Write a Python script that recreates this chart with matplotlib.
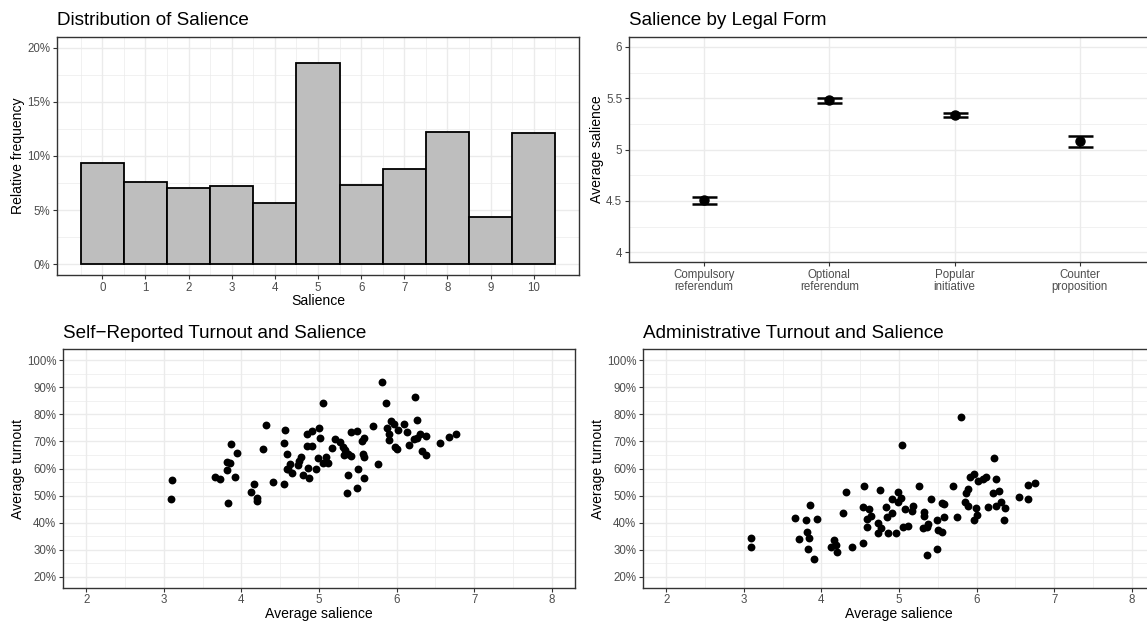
import numpy as np
import matplotlib.pyplot as plt
from matplotlib.ticker import FixedLocator, FuncFormatter

plt.rcParams['font.family'] = ['Liberation Sans', 'DejaVu Sans']

# histogram of salience (share of votes per level, in %)
salience_levels = list(range(11))
salience_share = [9.33, 7.55, 6.99, 7.18, 5.61, 18.53, 7.33, 8.77, 12.21, 4.36, 12.09]

# salience by legal form (mean and confidence interval)
legal_forms = ["Compulsory\nreferendum", "Optional\nreferendum",
               "Popular\ninitiative", "Counter\nproposition"]
form_mean = [4.505, 5.48, 5.338, 5.079]
form_lower = [4.474, 5.452, 5.315, 5.023]
form_upper = [4.535, 5.50, 5.36, 5.13]

# self-reported turnout vs average salience
self_x = [3.103, 3.095, 3.657, 3.727, 3.860, 3.812, 3.847, 3.817, 3.946, 3.911,
          3.830, 4.165, 4.126, 4.198, 4.207, 4.281, 4.314, 4.401, 4.543, 4.559,
          4.552, 4.585, 4.620, 4.603, 4.585, 4.646, 4.740, 4.765, 4.732, 4.791,
          4.865, 4.856, 4.848, 4.907, 4.994, 5.010, 4.848, 4.912, 5.049, 4.990,
          5.088, 5.058, 5.122, 4.964, 5.174, 5.200, 5.268, 5.303, 5.329, 5.320,
          5.376, 5.415, 5.410, 5.492, 5.380, 5.509, 5.577, 5.492, 5.363, 5.552,
          5.586, 5.561, 5.586, 5.698, 5.763, 5.809, 5.861, 5.879, 5.896, 5.896,
          5.930, 5.973, 6.021, 5.986, 6.008, 6.093, 6.128, 6.166, 6.235, 6.265,
          6.222, 6.260, 6.304, 6.373, 6.325, 6.373, 6.566, 6.673, 6.768]
self_y = [55.6, 48.6, 56.9, 56.1, 69.2, 62.3, 62.1, 59.6, 65.6, 56.9,
          47.3, 54.2, 51.4, 49.0, 47.9, 67.2, 75.9, 55.0, 54.2, 74.1,
          69.5, 65.5, 61.6, 60.0, 59.7, 58.4, 62.8, 64.3, 61.2, 57.7,
          56.4, 60.2, 72.8, 73.7, 75.0, 71.4, 68.2, 68.4, 84.2, 64.0,
          64.1, 62.1, 61.9, 59.7, 67.6, 70.8, 69.7, 68.1, 66.7, 64.9,
          65.2, 64.5, 73.4, 73.7, 57.7, 59.7, 56.4, 53.0, 50.8, 70.1,
          71.1, 65.4, 64.3, 75.6, 61.5, 91.8, 84.2, 74.8, 72.8, 70.5,
          77.7, 76.5, 74.4, 67.8, 67.1, 76.3, 73.4, 68.8, 86.5, 78.0,
          71.0, 71.2, 72.8, 71.9, 66.3, 65.1, 69.4, 71.5, 72.6]

# administrative turnout vs average salience
admin_x = [3.094, 3.090, 3.656, 3.716, 3.853, 3.806, 3.811, 3.840, 3.824, 3.943,
           3.909, 4.158, 4.120, 4.192, 4.201, 4.274, 4.313, 4.394, 4.535, 4.552,
           4.539, 4.613, 4.583, 4.638, 4.583, 4.732, 4.758, 4.728, 4.770, 4.834,
           4.847, 4.908, 4.860, 4.908, 4.959, 4.990, 4.990, 5.021, 5.037, 5.080,
           5.050, 5.118, 5.179, 5.166, 5.260, 5.317, 5.317, 5.304, 5.355, 5.376,
           5.407, 5.355, 5.484, 5.501, 5.548, 5.488, 5.574, 5.548, 5.582, 5.690,
           5.754, 5.800, 5.848, 5.870, 5.887, 5.891, 5.916, 5.964, 5.990, 6.006,
           5.973, 6.019, 6.089, 6.118, 6.153, 6.221, 6.251, 6.218, 6.290, 6.247,
           6.311, 6.363, 6.359, 6.552, 6.663, 6.663, 6.758]
admin_y = [34.3, 30.9, 41.8, 33.8, 46.5, 41.1, 36.6, 34.4, 30.4, 41.4,
           26.6, 33.7, 31.0, 31.6, 29.2, 43.6, 51.2, 31.1, 32.5, 53.5,
           45.7, 45.2, 41.4, 42.4, 38.3, 39.8, 52.1, 36.3, 38.1, 45.8,
           42.0, 43.6, 36.3, 48.7, 36.3, 51.2, 47.5, 49.2, 68.8, 45.0,
           38.5, 38.9, 46.1, 44.2, 53.5, 44.1, 42.6, 38.0, 38.5, 39.6,
           48.6, 28.2, 30.4, 37.4, 36.5, 41.1, 42.0, 47.4, 46.8, 53.4,
           42.1, 78.9, 47.7, 51.0, 52.3, 46.3, 56.7, 57.9, 45.3, 42.9,
           41.1, 55.4, 56.0, 56.7, 45.9, 64.0, 56.3, 50.9, 51.8, 46.3,
           47.7, 45.4, 41.1, 49.4, 48.6, 53.9, 54.5]

W, H = 1147, 624
GRID = '#EBEBEB'
TICKCOL = '#4D4D4D'
BORDER = '#333333'


def panel(fig, left, top, right, bottom):
    # pixel box -> figure fraction
    return fig.add_axes([left / W, 1 - bottom / H, (right - left) / W, (bottom - top) / H])


def style_bw(ax, title, xlabel, ylabel):
    ax.set_axisbelow(True)
    for sp in ax.spines.values():
        sp.set_color(BORDER)
        sp.set_linewidth(1.0)
    ax.grid(which='major', color=GRID, linewidth=1.0)
    ax.grid(which='minor', color=GRID, linewidth=0.5)
    ax.tick_params(which='major', length=2.8, width=0.8, color=BORDER,
                   labelcolor=TICKCOL, labelsize=8.3, pad=2)
    ax.tick_params(which='minor', length=0)
    ax.set_title(title, loc='left', fontsize=13.6, pad=8.4)
    if xlabel:
        ax.set_xlabel(xlabel, fontsize=10.1, labelpad=0.5)
    ax.set_ylabel(ylabel, fontsize=10.1, labelpad=1.5)


pct = FuncFormatter(lambda v, p: f"{v:.0f}%")

fig = plt.figure(figsize=(W / 100, H / 100), dpi=100)

# top left: histogram
ax1 = panel(fig, 57, 36.7, 579, 275)
ax1.bar(salience_levels, salience_share, width=1, color='#BEBEBE',
        edgecolor='black', linewidth=1.3)
ax1.set_xlim(-1.05, 11.05)
ax1.set_ylim(-1, 21)
ax1.xaxis.set_major_locator(FixedLocator(salience_levels))
ax1.xaxis.set_minor_locator(FixedLocator(np.arange(-0.5, 11, 1)))
ax1.yaxis.set_major_locator(FixedLocator([0, 5, 10, 15, 20]))
ax1.yaxis.set_minor_locator(FixedLocator([2.5, 7.5, 12.5, 17.5]))
ax1.yaxis.set_major_formatter(pct)
style_bw(ax1, "Distribution of Salience", "Salience", "Relative frequency")

# top right: mean salience by legal form
ax2 = panel(fig, 629, 36.7, 1155, 262.5)
pos = np.arange(1, len(legal_forms) + 1)
mean = np.array(form_mean)
err = [mean - np.array(form_lower), np.array(form_upper) - mean]
ax2.errorbar(pos, mean, yerr=err, fmt='o', color='black', markersize=6.5,
             elinewidth=1.5, capsize=9, capthick=1.8)
ax2.set_xlim(0.4, 4.6)
ax2.set_ylim(3.9, 6.1)
ax2.xaxis.set_major_locator(FixedLocator(pos))
ax2.set_xticklabels(legal_forms, linespacing=0.95)
ax2.yaxis.set_major_locator(FixedLocator([4, 4.5, 5, 5.5, 6]))
ax2.yaxis.set_minor_locator(FixedLocator([4.25, 4.75, 5.25, 5.75]))
ax2.set_yticklabels(["4", "4.5", "5", "5.5", "6"])
style_bw(ax2, "Salience by Legal Form", None, "Average salience")

# bottom: turnout scatters
scatters = [
    (63, self_x, self_y, "Self\u2212Reported Turnout and Salience"),
    (643, admin_x, admin_y, "Administrative Turnout and Salience"),
]
for left, xs, ys, title in scatters:
    ax = panel(fig, left, 349.4, left + 512, 587.7)
    ax.scatter(xs, ys, s=32, color='black', linewidths=0)
    ax.set_xlim(1.7, 8.3)
    ax.set_ylim(16, 104)
    ax.xaxis.set_major_locator(FixedLocator(range(2, 9)))
    ax.xaxis.set_minor_locator(FixedLocator(np.arange(2.5, 8, 1)))
    ax.yaxis.set_major_locator(FixedLocator(range(20, 101, 10)))
    ax.yaxis.set_minor_locator(FixedLocator(range(25, 100, 10)))
    ax.yaxis.set_major_formatter(pct)
    style_bw(ax, title, "Average salience", "Average turnout")

fig.savefig("out.png", dpi=100)
